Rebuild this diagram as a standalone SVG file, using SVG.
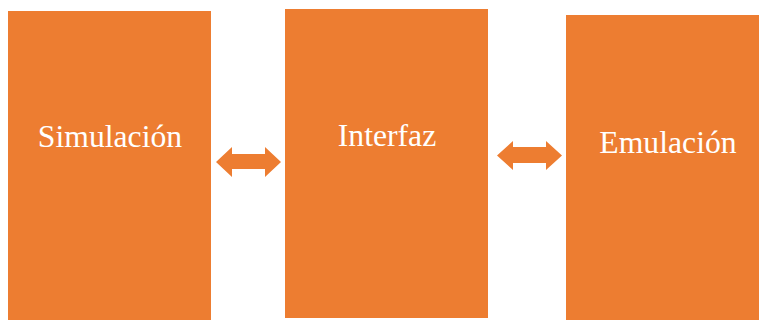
<svg xmlns="http://www.w3.org/2000/svg" width="759" height="320" viewBox="0 0 759 320">
<style>
.box{fill:#ED7D31}
.lbl{font-family:"Liberation Serif","Times New Roman",serif;font-size:31.7px;fill:#FFFFFF;text-anchor:middle}
.arr{fill:#ED7D31}
</style>
<rect width="759" height="320" fill="#FFFFFF"/>
<g id="simulacion"><rect class="box" x="8" y="11" width="203" height="309"/><text class="lbl" x="110" y="147">Simulación</text></g>
<g id="interfaz"><rect class="box" x="285" y="9" width="203" height="309"/><text class="lbl" x="387" y="146">Interfaz</text></g>
<g id="emulacion"><rect class="box" x="566" y="15" width="193" height="305"/><text class="lbl" x="668" y="153">Emulación</text></g>
<g id="connectors">
<polygon class="arr" points="216,162 232,147 232,154 265,154 265,147 281,162 265,177 265,169 232,169 232,177"/>
<polygon class="arr" points="497,155.5 513,141 513,147 546,147 546,141 562,155.5 546,170 546,163 513,163 513,170"/>
</g>
</svg>
